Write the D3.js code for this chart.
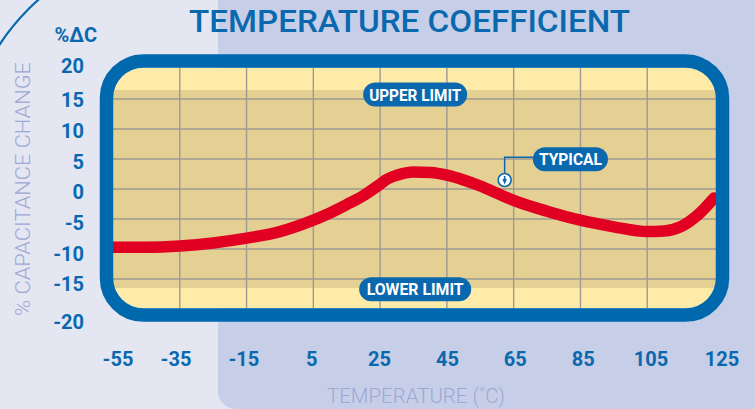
<!DOCTYPE html>
<html><head><meta charset="utf-8">
<script src="https://cdn.jsdelivr.net/npm/d3@7"></script>
<style>html,body{margin:0;padding:0;background:#E4E6F2;}svg{display:block;}</style>
</head><body>
<script>
// ---- data ----
const temps = [-55,-45,-35,-25,-15,-5,5,10,15,20,25,27,30,35,40,45,50,55,60,65,75,85,95,105,110,115,120,125];
const capChange = [-9.7,-9.7,-9.5,-9.0,-8.2,-7.1,-5.2,-4.0,-2.6,-1.1,0.8,1.6,2.3,2.85,2.75,2.3,1.5,0.5,-0.7,-1.9,-3.7,-5.2,-6.3,-7.1,-7.0,-6.3,-4.4,-1.5];
const xTickLabels = ["-55","-35","-15","5","25","45","65","85","105","125"];
const yTickLabels = ["20","15","10","5","0","-5","-10","-15","-20"];
const xGrid = [-35,-15,5,25,45,65,85,105];
const yGrid = [15,10,5,0,-5,-10,-15];
const limits = [16.5,-16.5];
const title = "TEMPERATURE COEFFICIENT";
const xTitle = "TEMPERATURE (˚C)";
const yTitle = "% CAPACITANCE CHANGE";
const yUnit = "%ΔC";
const annotations = [
  {text:"UPPER LIMIT", t:35.5, v:15.75, w:104, tl:92},
  {text:"LOWER LIMIT", t:35.5, v:-16.7, w:112, tl:97},
  {text:"TYPICAL", t:82, v:4.95, w:75, tl:63}
];
const typicalMarker = {t:62.3, v:1.5};

// ---- setup ----
const W=755,H=409;
const blue="#0A69AE", frameBlue="#0068AD", pale="#FFEBA8", tan="#E5D094", red="#E10022", titleGrey="#9DA8D5";
const svg=d3.select("body").append("svg").attr("width",W).attr("height",H).style("font-family","Roboto, sans-serif");

const x=d3.scaleLinear().domain([-55,125]).range([113,714]);
const y=d3.scaleLinear().domain([-20,20]).range([309,69]);
const xLab=d3.scaleLinear().domain([-55,-35,105,125]).range([118,176,651,722]);
const yLab=d3.scaleLinear().domain([-20,-15,15,20]).range([321.7,284,100,65.5]);

const defs=svg.append("defs");
// background
svg.append("rect").attr("width",W).attr("height",H).attr("fill","#E4E6F2");
svg.append("rect").attr("x",218).attr("y",-40).attr("width",620).attr("height",H+40).attr("rx",18).attr("fill","#C7CEE7");
// decorative arc, visible only in the top-left corner
defs.append("clipPath").attr("id","arcclip").append("rect").attr("x",0).attr("y",0).attr("width",60).attr("height",60);
svg.append("circle").attr("clip-path","url(#arcclip)").attr("cx",190).attr("cy",170).attr("r",228)
  .attr("fill","none").attr("stroke",blue).attr("stroke-width",2.2);

// title
svg.append("text").attr("x",189).attr("y",32).attr("textLength",441).attr("lengthAdjust","spacingAndGlyphs")
  .attr("fill",blue).attr("font-size",32).attr("font-weight",500).text(title);

// plot area
const inner={x:113,y:68,w:603,h:240,r:30};
defs.append("clipPath").attr("id","clip").append("rect")
  .attr("x",inner.x).attr("y",inner.y).attr("width",inner.w).attr("height",inner.h).attr("rx",inner.r);
const plot=svg.append("g").attr("clip-path","url(#clip)");
plot.append("rect").attr("x",inner.x).attr("y",inner.y).attr("width",inner.w).attr("height",inner.h).attr("fill",pale);
plot.append("rect").attr("x",inner.x).attr("y",y(limits[0])).attr("width",inner.w).attr("height",y(limits[1])-y(limits[0])).attr("fill",tan);
plot.selectAll(".vg").data(xGrid).join("line").attr("x1",d=>x(d)).attr("x2",d=>x(d)).attr("y1",inner.y).attr("y2",inner.y+inner.h)
  .attr("stroke","#9C9A92").attr("stroke-width",1.4);
plot.selectAll(".hg").data(yGrid).join("line").attr("y1",d=>y(d)).attr("y2",d=>y(d)).attr("x1",inner.x).attr("x2",inner.x+inner.w)
  .attr("stroke","#9C9A92").attr("stroke-width",1.4);
const line=d3.line().x((d,i)=>x(temps[i])).y(d=>y(d)).curve(d3.curveMonotoneX);
plot.append("path").attr("d",line(capChange)).attr("fill","none").attr("stroke",red).attr("stroke-width",11.5).attr("stroke-linecap","round");

// frame
svg.append("rect").attr("x",106.5).attr("y",61).attr("width",616).attr("height",254).attr("rx",37)
  .attr("fill","none").attr("stroke",frameBlue).attr("stroke-width",13.5);

// annotations (pills)
annotations.forEach(a=>{
  const cx=x(a.t), cy=y(a.v), h=24;
  svg.append("rect").attr("x",cx-a.w/2).attr("y",cy-h/2).attr("width",a.w).attr("height",h).attr("rx",h/2).attr("fill",blue);
  svg.append("text").attr("x",cx).attr("y",cy).attr("dy","0.36em").attr("text-anchor","middle")
    .attr("textLength",a.tl).attr("lengthAdjust","spacingAndGlyphs")
    .attr("fill","#fff").attr("font-size",17).attr("font-weight",700).text(a.text);
});
// typical connector + marker
{
  const ty=annotations[2];
  const px=x(ty.t)-ty.w/2, py=y(ty.v)-2;
  const mx=x(typicalMarker.t), my=y(typicalMarker.v);
  svg.append("path").attr("d",`M${px},${py} H${mx} V${my}`).attr("fill","none").attr("stroke",blue).attr("stroke-width",1.5);
  svg.append("circle").attr("cx",mx).attr("cy",my).attr("r",6.5).attr("fill","#fff").attr("stroke",blue).attr("stroke-width",1.6);
  svg.append("path").attr("d",`M${mx-0.8},${my-4} H${mx+0.8} V${my-1} H${mx+2.3} L${mx},${my+4.5} L${mx-2.3},${my-1} H${mx-0.8} Z`).attr("fill",blue);
}

// y tick labels
svg.selectAll(".yl").data(yTickLabels).join("text").attr("x",84).attr("y",d=>yLab(+d)).attr("dy","0.36em")
  .attr("text-anchor","end").attr("fill",blue).attr("font-size",20).attr("font-weight",700).text(d=>d);
svg.append("text").attr("x",97).attr("y",35).attr("dy","0.36em").attr("text-anchor","end")
  .attr("fill",blue).attr("font-size",20).attr("font-weight",700).text(yUnit);
// x tick labels
svg.selectAll(".xl").data(xTickLabels).join("text").attr("x",d=>xLab(+d)).attr("y",359).attr("dy","0.36em")
  .attr("text-anchor","middle").attr("fill",blue).attr("font-size",20).attr("font-weight",700).text(d=>d);
// axis titles
svg.append("text").attr("x",416).attr("y",395).attr("dy","0.36em").attr("text-anchor","middle")
  .attr("textLength",178).attr("lengthAdjust","spacingAndGlyphs")
  .attr("fill",titleGrey).attr("font-size",21).attr("font-weight",300).text(xTitle);
svg.append("text").attr("transform","translate(22.5,189) rotate(-90)").attr("dy","0.36em").attr("text-anchor","middle")
  .attr("textLength",254).attr("lengthAdjust","spacingAndGlyphs")
  .attr("fill",titleGrey).attr("font-size",21).attr("font-weight",300).text(yTitle);
</script>
</body></html>
